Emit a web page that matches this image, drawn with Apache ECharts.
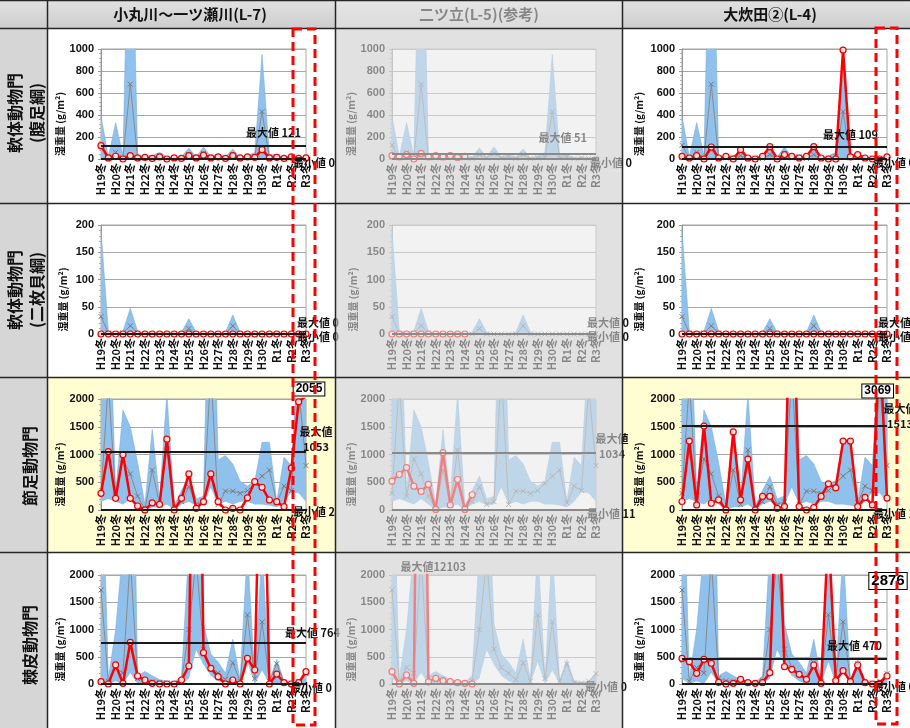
<!DOCTYPE html>
<html>
<head>
<meta charset="utf-8">
<script src="https://cdn.jsdelivr.net/npm/echarts@6/dist/echarts.min.js"></script>
<style>
html,body{margin:0;padding:0;background:#fff}
#chart{width:910px;height:728px}
</style>
</head>
<body>
<div id="chart"></div>
<script>
// Survey periods (winter labels shown; summer points sit between them)
const periods = ['H19冬','H20夏','H20冬','H21夏','H21冬','H22夏','H22冬','H23夏','H23冬','H24夏','H24冬',
  'H25夏','H25冬','H26夏','H26冬','H27夏','H27冬','H28夏','H28冬','H29夏','H29冬','H30夏','H30冬',
  'R1夏','R1冬','R2夏','R2冬','R3夏','R3冬'];

const stations = ['小丸川～一ツ瀬川(L-7)', '二ツ立(L-5)(参考)', '大炊田②(L-4)'];
const taxa = [['軟体動物門', '(腹足綱)'], ['軟体動物門', '(二枚貝綱)'], ['節足動物門'], ['棘皮動物門']];
const yMaxima = [1000, 200, 2000, 2000];
const yIntervals = [200, 50, 500, 500];

// 軟体動物門(腹足綱)
const gastropodUpper = [390, 20, 330, 30, 3000, 30, 20, 30, 60, 20, 20, 20, 100, 20, 110, 20, 40, 20, 90, 10, 30, 60, 950, 40, 40, 10, 20, 10, 10];
const gastropodLower = [0, 0, 0, 0, 0, 0, 0, 0, 0, 0, 0, 0, 0, 0, 0, 0, 0, 0, 0, 0, 0, 0, 0, 0, 0, 0, 0, 0, 0];
const gastropodMean = [125, 10, 60, 10, 680, 10, 10, 10, 30, 5, 10, 5, 40, 10, 50, 10, 20, 5, 40, 5, 10, 20, 430, 10, 20, 5, 10, 5, 5];
const gastropodL7 = [121, 10, 25, 0, 30, 10, 15, 5, 20, 0, 10, 5, 30, 10, 35, 10, 20, 5, 30, 10, 20, 15, 85, 10, 15, 5, 20, 5, 10];
const gastropodL5 = [30, 20, 40, 0, 51, 20, 30, 20, 30, 15, 25, null, null, null, null, null, null, null, null, null, null, null, null, null, null, null, null, null, null];
const gastropodL4 = [24, 9, 30, 0, 109, 9, 24, 0, 85, 9, 0, 24, 112, 0, 40, 24, 9, 24, 112, 9, 0, 0, 990, 20, 40, 9, 0, 0, 20];
const gastropodMax = [121, 51, 109];
const gastropodMin = [0, 0, 0];

// 軟体動物門(二枚貝綱)
const bivalveUpper = [190, 5, 3, 5, 47, 5, 0, 0, 0, 0, 0, 3, 28, 3, 0, 0, 0, 3, 35, 3, 0, 0, 0, 0, 0, 0, 0, 0, 0];
const bivalveLower = [0, 0, 0, 0, 0, 0, 0, 0, 0, 0, 0, 0, 0, 0, 0, 0, 0, 0, 0, 0, 0, 0, 0, 0, 0, 0, 0, 0, 0];
const bivalveMean = [32, 2, 0, 2, 15, 2, 0, 0, 0, 0, 0, 0, 10, 0, 0, 0, 0, 0, 15, 0, 0, 0, 0, 0, 0, 0, 0, 0, 0];
const bivalveL7 = [0, 0, 0, 0, 0, 0, 0, 0, 0, 0, 0, 0, 0, 0, 0, 0, 0, 0, 0, 0, 0, 0, 0, 0, 0, 0, 0, 0, 0];
const bivalveL5 = [0, 0, 0, 0, 0, 0, 0, 0, 0, 0, 0, null, null, null, null, null, null, null, null, null, null, null, null, null, null, null, null, null, null];
const bivalveL4 = [0, 0, 0, 0, 0, 0, 0, 0, 0, 0, 0, 0, 0, 0, 0, 0, 0, 0, 0, 0, 0, 0, 0, 0, 0, 0, 0, 0, 0];
const bivalveMax = [0, 0, 0];
const bivalveMin = [0, 0, 0];

// 節足動物門
const arthropodUpper = [3000, 4500, 300, 1800, 1500, 850, 100, 1450, 200, 2100, 80, 350, 610, 200, 250, 6000, 900, 980, 830, 520, 430, 520, 1220, 1220, 150, 950, 800, 3000, 2100];
const arthropodLower = [150, 200, 150, 100, 200, 100, 0, 50, 50, 100, 0, 100, 150, 80, 100, 400, 100, 150, 100, 150, 150, 100, 100, 80, 50, 150, 320, 300, 150];
const arthropodMean = [300, 2300, 250, 920, 650, 250, 10, 720, 100, 1080, 10, 150, 420, 100, 150, 2500, 100, 340, 340, 300, 350, 480, 610, 720, 130, 430, 350, 2200, 800];
const arthropodL7 = [300, 1053, 210, 994, 210, 72, 2, 130, 100, 1277, 0, 210, 650, 30, 150, 650, 150, 0, 30, 0, 220, 510, 410, 180, 150, 60, 753, 1950, 2055];
const arthropodL5 = [520, 640, 765, 430, 335, 460, 11, 1034, 90, 550, 11, 275, null, null, null, null, null, null, null, null, null, null, null, null, null, null, null, null, null];
const arthropodL4 = [153, 1241, 92, 1513, 122, 183, 1, 1407, 183, 917, 0, 245, 245, 31, 61, 5000, 61, 0, 43, 245, 471, 398, 1241, 1241, 61, 226, 92, 3069, 214];
const arthropodMax = [1053, 1034, 1513];
const arthropodMin = [2, 11, 1];

// 棘皮動物門
const echinodermUpper = [5000, 100, 1000, 2500, 8000, 150, 230, 150, 80, 50, 30, 150, 2500, 4400, 1100, 550, 400, 200, 820, 80, 2500, 100, 2500, 60, 450, 50, 30, 20, 210];
const echinodermLower = [100, 0, 50, 0, 200, 0, 0, 0, 0, 0, 0, 0, 100, 620, 350, 150, 50, 0, 0, 0, 400, 0, 250, 0, 0, 0, 0, 0, 0];
const echinodermMean = [1725, 50, 300, 200, 2300, 100, 60, 40, 30, 20, 10, 60, 1000, 2300, 640, 300, 200, 80, 390, 50, 1270, 100, 1140, 50, 370, 30, 20, 50, 190];
const echinodermL7 = [43, 0, 350, 12, 764, 147, 73, 12, 0, 0, 0, 73, 330, 10000, 575, 287, 135, 0, 73, 0, 471, 257, 6000, 0, 183, 24, 0, 24, 226];
const echinodermL5 = [226, 0, 165, 12, 12103, 40, 104, 61, 43, 24, 12, 0, null, null, null, null, null, null, null, null, null, null, null, null, null, null, null, null, null];
const echinodermL4 = [470, 410, 196, 453, 380, 30, 0, 12, 86, 24, 12, 24, 208, 4000, 318, 270, 177, 86, 349, 12, 2876, 61, 245, 43, 349, 24, 0, 12, 147];
const echinodermMax = [764, 12103, 470];
const echinodermMin = [0, 0, 0];

// Boxed values above the plot: [row, column, period shown at, period index of the value]
const valueBoxes = [[2, 0, 28, 28], [2, 2, 27, 27], [3, 2, 28, 20]];

const rowsData = [
  { upper: gastropodUpper, lower: gastropodLower, mean: gastropodMean, site: [gastropodL7, gastropodL5, gastropodL4], max: gastropodMax, min: gastropodMin },
  { upper: bivalveUpper, lower: bivalveLower, mean: bivalveMean, site: [bivalveL7, bivalveL5, bivalveL4], max: bivalveMax, min: bivalveMin },
  { upper: arthropodUpper, lower: arthropodLower, mean: arthropodMean, site: [arthropodL7, arthropodL5, arthropodL4], max: arthropodMax, min: arthropodMin },
  { upper: echinodermUpper, lower: echinodermLower, mean: echinodermMean, site: [echinodermL7, echinodermL5, echinodermL4], max: echinodermMax, min: echinodermMin }
];

// ---- layout ----
const FONT = '"Liberation Sans", "Noto Sans CJK JP", sans-serif';
const JFONT = '"Noto Sans CJK JP", sans-serif';
const gridTop = [49, 225, 399, 575];
const gridHeight = [110, 109, 111, 109];
const gridLeft = [101, 392, 682];
const gridWidth = [205, 204, 205];
const nameGap = [33, 34, 38];

const maxLabelLayout = [
  [{ pos: 'insideEndTop', off: [0, 0] }, { pos: 'insideEndTop', off: [-4, -3] }, { pos: 'insideEndTop', off: [-4, 0] }],
  [{ pos: 'end', off: [-14, -11] }, { pos: 'end', off: [-14, -11] }, { pos: 'end', off: [-14, -11] }],
  [{ pos: 'end', off: [5, -12], two: true }, { pos: 'end', off: [11, -6], two: true }, { pos: 'end', off: [8, -10], two: true }],
  [{ pos: 'end', off: [-26, -10] }, { pos: 'top', off: [12, -8] }, { pos: 'insideEndTop', off: [0, 0] }]
];
const minLabelOffset = [
  [[-18, 4], [-11, 4], [-19, 4]],
  [[-14, 3], [-14, 3], [-14, 3]],
  [[-18, 2], [-14, 4], [-19, 4]],
  [[-21, 4], [-16, 3], [-19, 3]]
];
const boxLayout = { '2-0': [3, -10, 12], '2-2': [-2, -8, 12], '3-2': [1, 6, 15] };

const labelBase = { color: '#111', fontSize: 11, fontWeight: 'bold', fontFamily: JFONT };

const option = {
  animation: false,
  textStyle: { fontFamily: FONT },
  grid: [], xAxis: [], yAxis: [], series: [],
  graphic: { elements: [] }
};

rowsData.forEach((rd, r) => {
  const yMax = yMaxima[r];
  for (let c = 0; c < 3; c++) {
    const k = r * 3 + c;
    option.grid.push({
      left: gridLeft[c], top: gridTop[r], width: gridWidth[c], height: gridHeight[r],
      show: true, backgroundColor: '#ffffff', borderColor: '#a6a6a6', borderWidth: 1
    });
    option.xAxis.push({
      type: 'category', gridIndex: k, data: periods, boundaryGap: false,
      axisLine: { show: true, lineStyle: { color: '#666' } },
      axisTick: { show: false },
      axisLabel: { interval: 1, rotate: 90, fontSize: 11, fontWeight: 'bold', color: '#111', margin: 4, fontFamily: JFONT },
      splitLine: { show: false }
    });
    option.yAxis.push({
      type: 'value', gridIndex: k, min: 0, max: yMax, interval: yIntervals[r],
      name: '湿重量 (g/m²)', nameLocation: 'middle', nameGap: nameGap[c],
      nameTextStyle: { fontSize: 10, fontWeight: 'bold', color: '#111', fontFamily: JFONT, padding: [0, 40, 0, 0] },
      axisLine: { show: true, lineStyle: { color: '#999' } },
      axisTick: { show: true, length: 3, lineStyle: { color: '#999' } },
      minorTick: { show: true, splitNumber: 5, length: 2, lineStyle: { color: '#b0b0b0' } },
      axisLabel: { fontSize: 11, fontWeight: 'bold', color: '#111', margin: 7, formatter: v => String(v) },
      splitLine: { show: true, lineStyle: { color: '#a6a6a6' } }
    });

    // range band (lower edge + band height, stacked)
    const bandHeight = rd.upper.map((u, i) => u - rd.lower[i]);
    option.series.push({
      type: 'line', xAxisIndex: k, yAxisIndex: k, stack: 'band' + k, data: rd.lower,
      symbol: 'none', silent: true, lineStyle: { opacity: 0 }, z: 2
    });
    option.series.push({
      type: 'line', xAxisIndex: k, yAxisIndex: k, stack: 'band' + k, data: bandHeight,
      symbol: 'none', silent: true, lineStyle: { color: '#7aafe0', width: 0.6 },
      areaStyle: { color: '#8fc1ec', opacity: 1 }, z: 2
    });

    // reference lines: maximum and minimum
    const lay = maxLabelLayout[r][c];
    const maxVal = rd.max[c];
    const minVal = rd.min[c];
    const mlData = [];
    if (maxVal <= yMax) {
      mlData.push({
        yAxis: maxVal,
        label: Object.assign({}, labelBase, {
          show: true, position: lay.pos, offset: lay.off,
          align: lay.two ? 'center' : undefined,
          lineHeight: 15,
          formatter: p => lay.two ? '最大値\n' + p.value : '最大値 ' + p.value
        })
      });
    }
    mlData.push({
      yAxis: minVal,
      label: Object.assign({}, labelBase, {
        show: true, position: 'end', offset: minLabelOffset[r][c],
        formatter: p => '最小値 ' + p.value
      })
    });
    option.series.push({
      type: 'line', xAxisIndex: k, yAxisIndex: k, data: rd.mean,
      symbol: 'path://M0,0L10,10M10,0L0,10', symbolSize: 5, showAllSymbol: true,
      lineStyle: { color: '#8a8a8a', width: 1 },
      itemStyle: { color: 'rgba(0,0,0,0)', borderColor: '#7a7a7a', borderWidth: 1 },
      z: 3,
      markLine: {
        silent: true, symbol: 'none', animation: false,
        lineStyle: { color: '#1a1a1a', width: 2, type: 'solid' },
        data: mlData
      }
    });

    // station values, with boxed values and off-scale maximum
    const site = rd.site[c];
    const mpData = [];
    valueBoxes.forEach(b => {
      if (b[0] === r && b[1] === c) {
        const bl = boxLayout[r + '-' + c];
        mpData.push({
          coord: [periods[b[2]], yMax], value: site[b[3]],
          label: {
            show: true, position: 'inside', offset: [bl[0], bl[1]], formatter: '{c}',
            color: '#000', fontSize: bl[2], fontWeight: 'bold', fontFamily: FONT,
            backgroundColor: '#fff', borderColor: '#000', borderWidth: 1, padding: [1, 2, 0, 2]
          }
        });
      }
    });
    if (maxVal > yMax) {
      const at = site.indexOf(maxVal);
      mpData.push({
        coord: [periods[at], yMax], value: maxVal,
        label: Object.assign({}, labelBase, {
          show: true, position: 'inside', offset: lay.off, formatter: p => '最大値' + p.value
        })
      });
    }
    option.series.push({
      type: 'line', xAxisIndex: k, yAxisIndex: k, data: site,
      symbol: 'circle', symbolSize: 6, showAllSymbol: true,
      lineStyle: { color: '#ff0000', width: 2.5 },
      itemStyle: { color: '#ffdede', borderColor: '#ee0000', borderWidth: 1.2 },
      z: 4,
      markPoint: {
        silent: true, symbol: 'rect', symbolSize: 1,
        itemStyle: { color: 'rgba(0,0,0,0)' },
        data: mpData
      }
    });
  }
});

// ---- table frame ----
const g = option.graphic.elements;
const rect = (x, y, w, h, fill, z) => g.push({ type: 'rect', z: z, silent: true, shape: { x: x, y: y, width: w, height: h }, style: { fill: fill } });
const line = (x1, y1, x2, y2, z) => g.push({ type: 'line', z: z || 60, silent: true, shape: { x1: x1, y1: y1, x2: x2, y2: y2 }, style: { stroke: '#262626', lineWidth: 1.5 } });

g.push({
  type: 'rect', z: -10, silent: true, shape: { x: 0, y: 0, width: 910, height: 28 },
  style: { fill: new echarts.graphic.LinearGradient(0, 0, 0, 1, [{ offset: 0, color: '#e2e2e2' }, { offset: 1, color: '#cdcdcd' }]) }
});
rect(0, 28, 47, 700, '#d6d6d6', -10);
rect(48, 378, 287, 174, '#fffdd2', -10);
rect(623, 378, 287, 174, '#fffdd2', -10);
rect(336, 29, 286, 699, '#dadada', -10);
// reference column is shown subdued
rect(336, 0, 286, 728, 'rgba(232,232,232,0.55)', 50);

[28.5, 203.5, 377.5, 552.5].forEach(y => line(0, y, 910, y));
[47.5, 335.5, 622.5].forEach(x => line(x, 0, x, 728));
line(0, 0.5, 910, 0.5);

const titleX = [190, 479, 770];
stations.forEach((s, c) => g.push({
  type: 'text', z: 40, silent: true, x: titleX[c], y: 14,
  style: { text: s, fill: '#111', font: 'bold 15px ' + JFONT, align: 'center', verticalAlign: 'middle', textAlign: 'center', textVerticalAlign: 'middle' }
}));

const rowCenterY = [113, 290, 466, 645];
taxa.forEach((t, r) => g.push({
  type: 'text', z: 40, silent: true, x: t.length > 1 ? 26 : 30, y: rowCenterY[r], rotation: Math.PI / 2,
  style: { text: t.join('\n'), fill: '#111', font: 'bold 16px ' + JFONT, lineHeight: 22, align: 'center', verticalAlign: 'middle', textAlign: 'center', textVerticalAlign: 'middle' }
}));

// latest-survey highlight frames
[[293, 29, 22, 696], [876, 28, 21, 696]].forEach(b => g.push({
  type: 'rect', z: 80, silent: true, shape: { x: b[0], y: b[1], width: b[2], height: b[3] },
  style: { fill: 'none', stroke: '#ff0000', lineWidth: 3, lineDash: [9, 5] }
}));

const chart = echarts.init(document.getElementById('chart'), null, { renderer: 'canvas' });
chart.setOption(option);
</script>
</body>
</html>
